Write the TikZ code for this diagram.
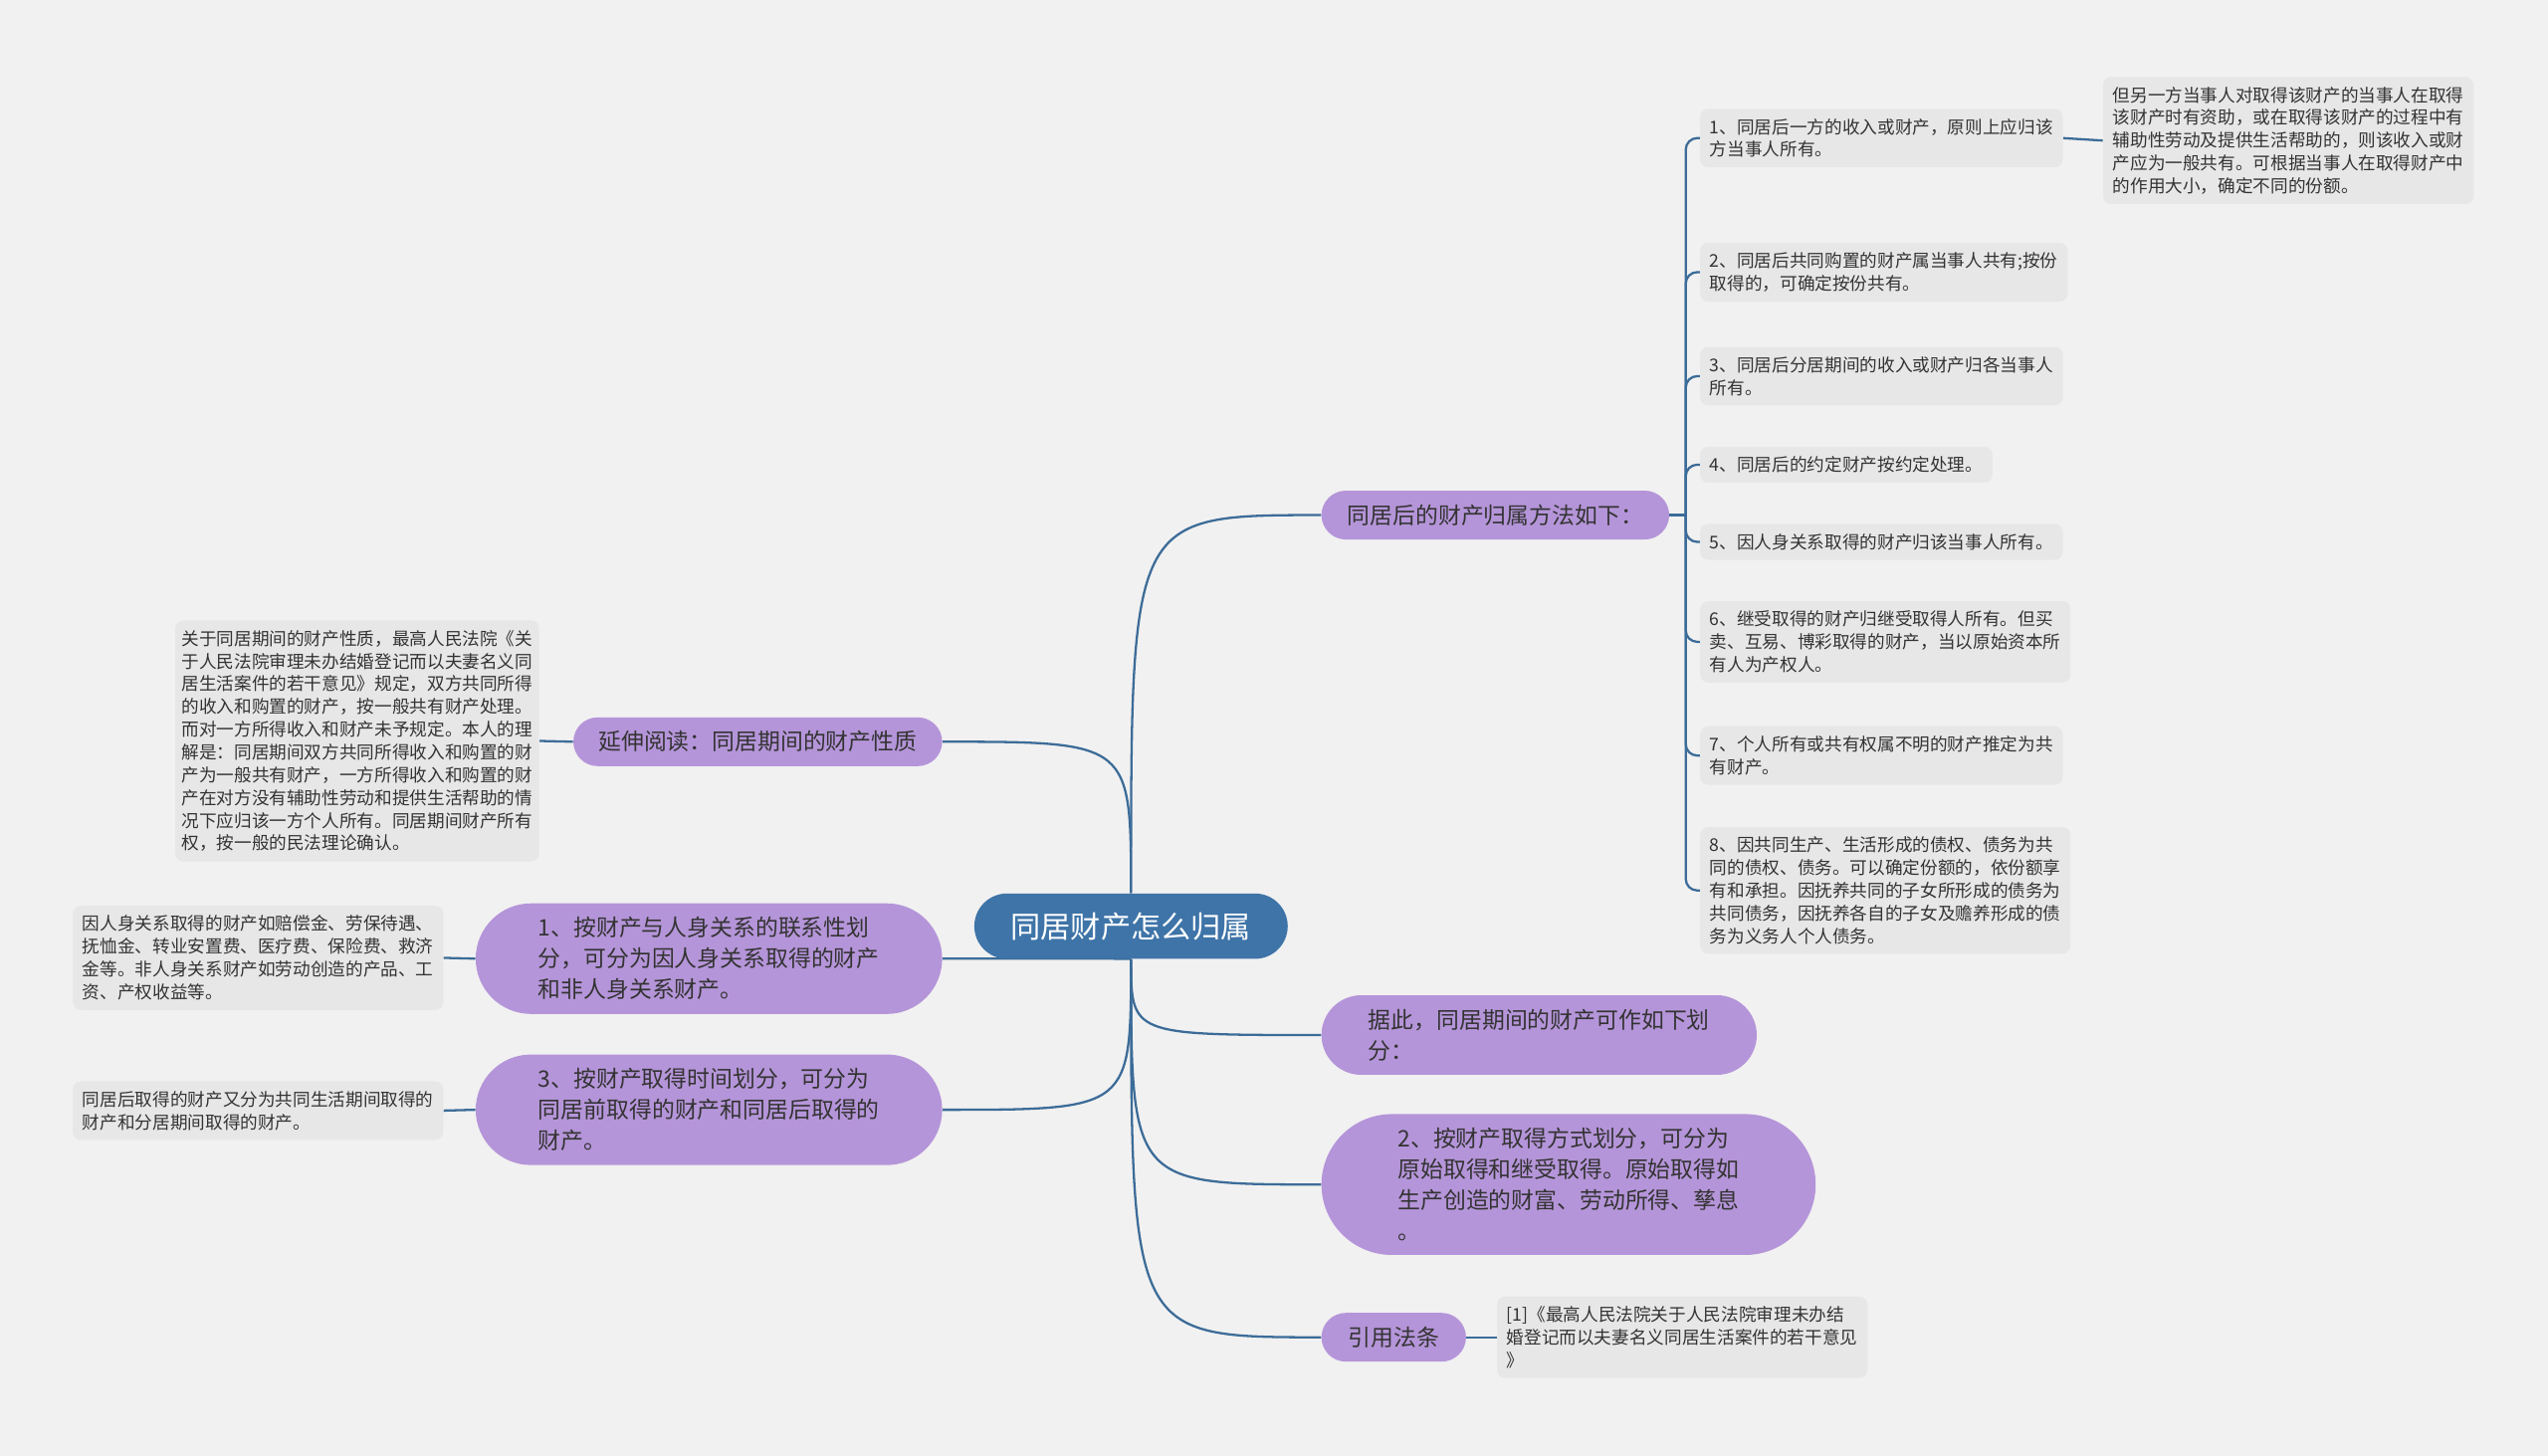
\documentclass[tikz,border=0pt]{standalone}
\usepackage{fontspec}
\setmainfont{Noto Sans CJK SC}
\usepackage{tikz}
\usetikzlibrary{shapes.misc,calc,backgrounds}
\definecolor{mmBg}    {RGB}{241,241,241}
\definecolor{mmBlue}  {RGB}{ 62,116,168}
\definecolor{mmLine}  {RGB}{ 60,108,152}
\definecolor{mmPurple}{RGB}{181,149,217}
\definecolor{mmGrey}  {RGB}{231,231,231}
\definecolor{mmText}  {RGB}{ 51, 51, 51}

\begin{document}
\begin{tikzpicture}[x=1pt,y=-1pt,
  every node/.style={text=mmText},
  link/.style={draw=mmLine,line width=1.4pt},
  topic/.style={rounded rectangle,fill=mmBlue,text=white,
                font=\fontsize{18.5}{22}\selectfont,inner xsep=20.5pt,inner ysep=11.5pt},
  sub/.style={rounded rectangle,fill=mmPurple,align=left,
              font=\fontsize{14}{19}\selectfont,inner xsep=14.5pt,inner ysep=8.5pt},
  leaf/.style={fill=mmGrey,rounded corners=5pt,align=left,
               font=\fontsize{10.8}{14}\selectfont,inner xsep=6pt,inner ysep=6pt}
]
\useasboundingbox (0,0) rectangle (1568,896);

% central topic
\node[topic] (root) at (696,570) {同居财产怎么归属};

% right side
\node[sub,anchor=west] (after) at (813,317) {同居后的财产归属方法如下：};
\node[sub,anchor=west,inner xsep=23pt] (ju) at (813,637) {据此，同居期间的财产可作如下划\\分：};
\node[sub,anchor=west,inner xsep=29.5pt] (p2) at (813,729)
   {2、按财产取得方式划分，可分为\\原始取得和继受取得。原始取得如\\生产创造的财富、劳动所得、孳息\\。};
\node[sub,anchor=west,inner xsep=15pt] (cite) at (813,823) {引用法条};

% left side
\node[sub,anchor=east,inner xsep=14pt] (ext) at (580,456.5) {延伸阅读：同居期间的财产性质};
\node[sub,anchor=east,inner xsep=27pt] (p1) at (580,590)
   {1、按财产与人身关系的联系性划\\分，可分为因人身关系取得的财产\\和非人身关系财产。};
\node[sub,anchor=east,inner xsep=27pt] (p3) at (580,683)
   {3、按财产取得时间划分，可分为\\同居前取得的财产和同居后取得的\\财产。};

% leaves of "after"
\node[leaf,anchor=west] (r1) at (1046,85)
   {1、同居后一方的收入或财产，原则上应归该\\方当事人所有。};
\node[leaf,anchor=west] (r1a) at (1294,86.5)
   {但另一方当事人对取得该财产的当事人在取得\\该财产时有资助，或在取得该财产的过程中有\\辅助性劳动及提供生活帮助的，则该收入或财\\产应为一般共有。可根据当事人在取得财产中\\的作用大小，确定不同的份额。};
\node[leaf,anchor=west] (r2) at (1046,167.5)
   {2、同居后共同购置的财产属当事人共有;按份\\取得的，可确定按份共有。};
\node[leaf,anchor=west] (r3) at (1046,231.5)
   {3、同居后分居期间的收入或财产归各当事人\\所有。};
\node[leaf,anchor=west] (r4) at (1046,286) {4、同居后的约定财产按约定处理。};
\node[leaf,anchor=west] (r5) at (1046,333.5) {5、因人身关系取得的财产归该当事人所有。};
\node[leaf,anchor=west] (r6) at (1046,395)
   {6、继受取得的财产归继受取得人所有。但买\\卖、互易、博彩取得的财产，当以原始资本所\\有人为产权人。};
\node[leaf,anchor=west] (r7) at (1046,465)
   {7、个人所有或共有权属不明的财产推定为共\\有财产。};
\node[leaf,anchor=west] (r8) at (1046,548)
   {8、因共同生产、生活形成的债权、债务为共\\同的债权、债务。可以确定份额的，依份额享\\有和承担。因抚养共同的子女所形成的债务为\\共同债务，因抚养各自的子女及赡养形成的债\\务为义务人个人债务。};

% other leaves
\node[leaf,anchor=west] (citeL) at (921,823)
   {[1]《最高人民法院关于人民法院审理未办结\\婚登记而以夫妻名义同居生活案件的若干意见\\》};
\node[leaf,anchor=east,inner xsep=4pt] (extL) at (332,456)
   {关于同居期间的财产性质，最高人民法院《关\\于人民法院审理未办结婚登记而以夫妻名义同\\居生活案件的若干意见》规定，双方共同所得\\的收入和购置的财产，按一般共有财产处理。\\而对一方所得收入和财产未予规定。本人的理\\解是：同居期间双方共同所得收入和购置的财\\产为一般共有财产，一方所得收入和购置的财\\产在对方没有辅助性劳动和提供生活帮助的情\\况下应归该一方个人所有。同居期间财产所有\\权，按一般的民法理论确认。};
\node[leaf,anchor=east] (p1L) at (273,589.5)
   {因人身关系取得的财产如赔偿金、劳保待遇、\\抚恤金、转业安置费、医疗费、保险费、救济\\金等。非人身关系财产如劳动创造的产品、工\\资、产权收益等。};
\node[leaf,anchor=east] (p3L) at (273,683.5)
   {同居后取得的财产又分为共同生活期间取得的\\财产和分居期间取得的财产。};

\begin{scope}[on background layer]
  \fill[mmBg] (0,0) rectangle (1568,896);
  % root branches
  \foreach \n/\a in {after/west,ext/east}
    \draw[link] (root.north) .. controls (root.north |- \n.\a) .. (\n.\a);
  \foreach \n/\a in {ju/west,p2/west,cite/west,p1/east,p3/east}
    \draw[link] (root.south) .. controls (root.south |- \n.\a) .. (\n.\a);
  % spine and elbows to the leaves
  \draw[link] (after.east) -- ++(10,0) coordinate (spine);
  \foreach \n in {r1,r2,r3,r4,r5,r6,r7,r8}
    \draw[link,rounded corners=7pt] (spine) |- (\n.west);
  \draw[link] (r1.east) -- (r1a.west);
  \draw[link] (cite.east) -- (citeL.west);
  \draw[link] (ext.west) -- (extL.east);
  \draw[link] (p1.west) -- (p1L.east);
  \draw[link] (p3.west) -- (p3L.east);
\end{scope}
\end{tikzpicture}
\end{document}
